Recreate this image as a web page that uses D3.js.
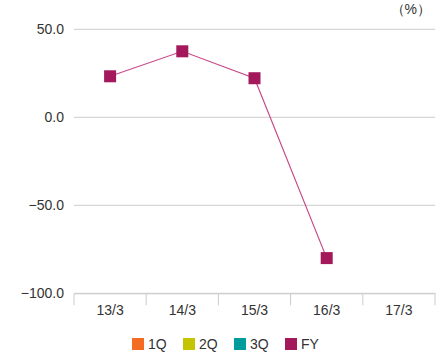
<!DOCTYPE html>
<html><head><meta charset="utf-8">
<script src="https://cdn.jsdelivr.net/npm/d3@7"></script>
<style>body{margin:0;background:#fff;} text{font-family:"Liberation Sans",Arial,sans-serif;}</style>
</head><body>
<svg id="c" width="436" height="360"></svg>
<script>
const categories = ["13/3","14/3","15/3","16/3","17/3"];
const fyValues = [23.3, 37.5, 22.2, -80.0, null];
const yTicks = [50, 0, -50, -100];
const legendNames = ["1Q","2Q","3Q","FY"];
const legendColors = ["#f36c21","#c4c400","#009b9b","#a3195b"];

const svg = d3.select("#c");
const m = {l:74, r:435, t:29.3, b:293.3};
const x = d3.scaleBand().domain(categories).range([m.l, m.r]);
const y = d3.scaleLinear().domain([-100, 50]).range([m.b, m.t]);

// grid
svg.append("g").selectAll("line").data(yTicks).join("line")
  .attr("x1", m.l).attr("x2", m.r)
  .attr("y1", d=>y(d)).attr("y2", d=>y(d))
  .attr("stroke", "#cccccc").attr("stroke-width", 1);

// y labels
svg.append("g").selectAll("text").data(yTicks).join("text")
  .attr("x", 64).attr("y", d=>y(d)).attr("dy", "0.36em")
  .attr("text-anchor", "end").attr("font-size", 14).attr("fill", "#333")
  .text(d=>d3.format(".1f")(d).replace("-", "\u2212"));

// x axis
const xa = svg.append("g").attr("transform", `translate(0,${y(-100)})`)
  .call(d3.axisBottom(x).tickSize(0).tickPadding(12));
xa.select(".domain").attr("stroke", "#cccccc");
xa.selectAll("text").attr("font-size", 14).attr("fill", "#333").attr("font-family", "Noto Sans CJK JP, sans-serif");
const bounds = categories.map(c=>x(c)).concat([x(categories[categories.length-1]) + x.bandwidth()]);
xa.selectAll(".bt").data(bounds).join("line").attr("class","bt")
  .attr("x1", d=>d).attr("x2", d=>d).attr("y1", 0).attr("y2", 12)
  .attr("stroke", "#cccccc");

// unit
svg.append("text").attr("x", 431).attr("y", 9).attr("dy","0.36em").attr("text-anchor","end")
  .attr("font-family","Noto Sans CJK JP, sans-serif")
  .attr("font-size", 14).attr("fill","#333").text("（%）");

// line
const pts = categories.map((c,i)=>({c, v: fyValues[i]})).filter(d=>d.v!==null);
svg.append("path").datum(pts)
  .attr("d", d3.line().x(d=>x(d.c)+x.bandwidth()/2).y(d=>y(d.v)))
  .attr("fill","none").attr("stroke","#c84a8a").attr("stroke-width",1.2);
svg.append("g").selectAll("rect").data(pts).join("rect")
  .attr("x", d=>x(d.c)+x.bandwidth()/2-6).attr("y", d=>y(d.v)-6)
  .attr("width",12).attr("height",12).attr("fill", legendColors[3]);

// legend
const lx = [132, 183, 234, 285];
const lg = svg.append("g").selectAll("g").data(legendNames).join("g")
  .attr("transform",(d,i)=>`translate(${lx[i]},338)`);
lg.append("rect").attr("width",12).attr("height",12).attr("fill",(d,i)=>legendColors[i]);
lg.append("text").attr("x",16).attr("y",6).attr("dy","0.36em")
  .attr("font-size",14).attr("fill","#333").text(d=>d);
</script>
</body></html>
